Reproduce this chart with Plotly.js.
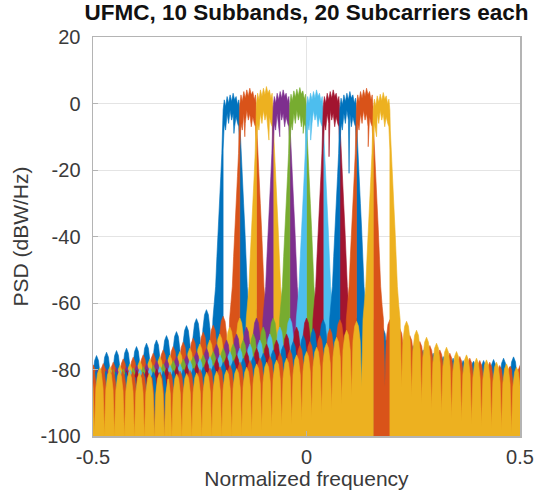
<!DOCTYPE html>
<html>
<head>
<meta charset="utf-8">
<script src="https://cdn.plot.ly/plotly-3.0.1.min.js"></script>
<style>
html,body{margin:0;padding:0;background:#ffffff;}
#chart{width:536px;height:492px;}
</style>
</head>
<body>
<div id="chart"></div>
<script>
// ---------------- values ----------------
const chartTitle = 'UFMC, 10 Subbands, 20 Subcarriers each';
const xTitle = 'Normalized frequency';
const yTitle = 'PSD (dBW/Hz)';
const xTickVals = [-0.5, 0, 0.5];
const xTickText = ['-0.5', '0', '0.5'];
const yTickVals = [-100, -80, -60, -40, -20, 0, 20];
const yTickText = ['-100', '-80', '-60', '-40', '-20', '0', '20'];

// subbands (centre frequency, normalized) and MATLAB colour order
const bandNames = ['Subband 1','Subband 2','Subband 3','Subband 4','Subband 5',
                   'Subband 6','Subband 7','Subband 8','Subband 9','Subband 10'];
const bandCenters = [-0.1758, -0.1367, -0.0977, -0.0586, -0.0195, 0.0195, 0.0586, 0.0977, 0.1367, 0.1758];
const bandHalfWidth = 0.0195;
const bandColors = ['#0072BD','#D95319','#EDB120','#7E2F8E','#77AC30',
                    '#4DBEEE','#A2142F','#0072BD','#D95319','#EDB120'];

// in-band ripple: positions (fraction of half width) and upper / lower levels (dB)
const inbandPos = [-1, -0.86, -0.7, -0.52, -0.34, -0.16, 0.02, 0.2, 0.38, 0.56, 0.74, 0.88, 1];
const inbandHi  = [-1, 2, 0, 3, 1, 3.5, 1.5, 4, 2, 3, 0.5, 2, -1];
const inbandLo  = [-14, -6, -8, -3, -6, -2, -5, -3, -7, -4, -6, -7, -14];
const bandPeak  = [3.1, 4.6, 5.1, 4.1, 4.8, 4.1, 4.1, 3.6, 4.6, 3.3];
const bandDip   = [-9, -10, -11, -10, -9, -11, -16, -21, -13, -10];
const bandDipPos = [0.3, -0.4, 0.5, -0.2, 0.6, -0.5, -0.3, 0.1, 0.4, -0.6];

// skirt of the filtered subband: distance from band centre -> level (dB)
const skirtDist  = [0.0195, 0.0205, 0.0225, 0.025, 0.0285, 0.0315, 0.034, 0.037, 0.0405, 0.0435];
const skirtLevel = [-2, -8, -15, -22, -30, -38, -46, -55, -61, -65];

// side-lobe peaks: distance from band centre -> peak level (dB), read on subband 1
const lobeDist = [0.0585, 0.0819, 0.1053, 0.1287, 0.1521, 0.1755, 0.1989, 0.2223, 0.2457, 0.2691,
                  0.2925, 0.3159, 0.3393, 0.3627, 0.3861, 0.4095, 0.4329, 0.4563, 0.4797, 0.5031];
const lobePeak = [-62, -64.7, -66.8, -68.6, -69.8, -71.1, -72.1, -73.1, -73.6, -74.3,
                  -74.8, -75.8, -76.2, -76.6, -77, -77.3, -77.5, -77.7, -77.8, -77.9];
// shape of one side lobe around its peak (distance offset, dB relative to peak)
const lobeShapeDx = [-0.0117, -0.0085, -0.0045, 0, 0.0045, 0.0085];
const lobeShapeDb = [-20, -6, -1.5, 0, -1.5, -6];
// per-subband side-lobe level shift (dB)
const bandLobeOffset = [0, -2, -2.5, -2.5, -2.5, -2.5, -2.5, -3, -3, -3.5];

// ---------------- build the traces ----------------
const FLOOR = -130;

function halfEnvelope(k) {
  const pts = [];
  for (let i = 0; i < skirtDist.length; i++) pts.push([skirtDist[i], skirtLevel[i]]);
  const off = bandLobeOffset[k];
  for (let n = 0; n < lobeDist.length; n++) {
    for (let j = 0; j < lobeShapeDx.length; j++) {
      const d = lobeDist[n] + lobeShapeDx[j];
      if (d <= 0.5 && d > pts[pts.length - 1][0]) pts.push([d, lobePeak[n] + off + lobeShapeDb[j]]);
    }
  }
  const last = pts[pts.length - 1];
  if (last[0] < 0.5) pts.push([0.5, last[1]]);
  return pts;
}

function bandPolygon(k, shift) {
  const c = bandCenters[k] + shift;
  const h = bandHalfWidth;
  const env = halfEnvelope(k);
  const lift = bandPeak[k] - 4;
  const xs = [], ys = [];
  xs.push(c - 0.5); ys.push(FLOOR);
  for (let i = env.length - 1; i >= 0; i--) { xs.push(c - env[i][0]); ys.push(env[i][1]); }
  for (let i = 0; i < inbandPos.length; i++) { xs.push(c + inbandPos[i] * h); ys.push(inbandHi[i] + lift); }
  for (let i = 0; i < env.length; i++) { xs.push(c + env[i][0]); ys.push(env[i][1]); }
  xs.push(c + 0.5); ys.push(FLOOR);
  xs.push(c + h); ys.push(FLOOR);
  // lower edge of the in-band part, right to left, with one deep notch
  const lo = [];
  for (let i = 0; i < inbandPos.length; i++) lo.push([inbandPos[i], inbandLo[i]]);
  lo.push([bandDipPos[k], bandDip[k]]);
  lo.sort((a, b) => b[0] - a[0]);
  for (const p of lo) { xs.push(c + p[0] * h); ys.push(p[1]); }
  xs.push(c - h); ys.push(FLOOR);
  return [xs, ys];
}

const traces = [];
for (let k = 0; k < bandCenters.length; k++) {
  const a = bandPolygon(k, 0);
  const b = bandPolygon(k, bandCenters[k] < 0 ? 1 : -1);
  traces.push({
    type: 'scatter', mode: 'lines', name: bandNames[k],
    x: a[0].concat([null], b[0]),
    y: a[1].concat([null], b[1]),
    fill: 'toself', fillcolor: bandColors[k],
    line: {color: bandColors[k], width: 0.6},
    hoverinfo: 'skip', showlegend: false
  });
}

const axisColor = '#b4b4b4';
const textColor = '#3a3a3a';
const layout = {
  width: 536, height: 492,
  margin: {l: 93, r: 16, t: 37, b: 56, pad: 0},
  paper_bgcolor: '#ffffff', plot_bgcolor: '#ffffff',
  showlegend: false,
  font: {family: 'Liberation Sans, Arial, sans-serif', color: textColor},
  title: {
    text: '<b>' + chartTitle + '</b>',
    font: {family: 'Liberation Sans, Arial, sans-serif', size: 22.5, color: '#111111'},
    x: 0.5, xref: 'paper', xanchor: 'center',
    y: 1 - 12 / 492, yref: 'container', yanchor: 'middle'
  },
  xaxis: {
    range: [-0.5, 0.5], tickmode: 'array', tickvals: xTickVals, ticktext: xTickText,
    showgrid: true, gridcolor: '#e4e4e4', gridwidth: 1, zeroline: false,
    showline: true, linecolor: axisColor, linewidth: 1.5, mirror: true,
    ticks: 'inside', ticklen: 5, tickcolor: axisColor, tickwidth: 1,
    tickfont: {size: 20, color: textColor}, ticklabelstandoff: 2,
    title: {text: xTitle, font: {size: 21, color: textColor}, standoff: 3},
    automargin: false, fixedrange: true
  },
  yaxis: {
    range: [-100, 20], tickmode: 'array', tickvals: yTickVals, ticktext: yTickText,
    showgrid: true, gridcolor: '#e4e4e4', gridwidth: 1, zeroline: false,
    showline: true, linecolor: axisColor, linewidth: 1.5, mirror: true,
    ticks: 'inside', ticklen: 5, tickcolor: axisColor, tickwidth: 1,
    tickfont: {size: 20, color: textColor}, ticklabelstandoff: 7,
    title: {text: yTitle, font: {size: 21, color: textColor}, standoff: 6},
    automargin: false, fixedrange: true
  }
};

Plotly.newPlot('chart', traces, layout, {displayModeBar: false, staticPlot: true});
</script>
</body>
</html>
